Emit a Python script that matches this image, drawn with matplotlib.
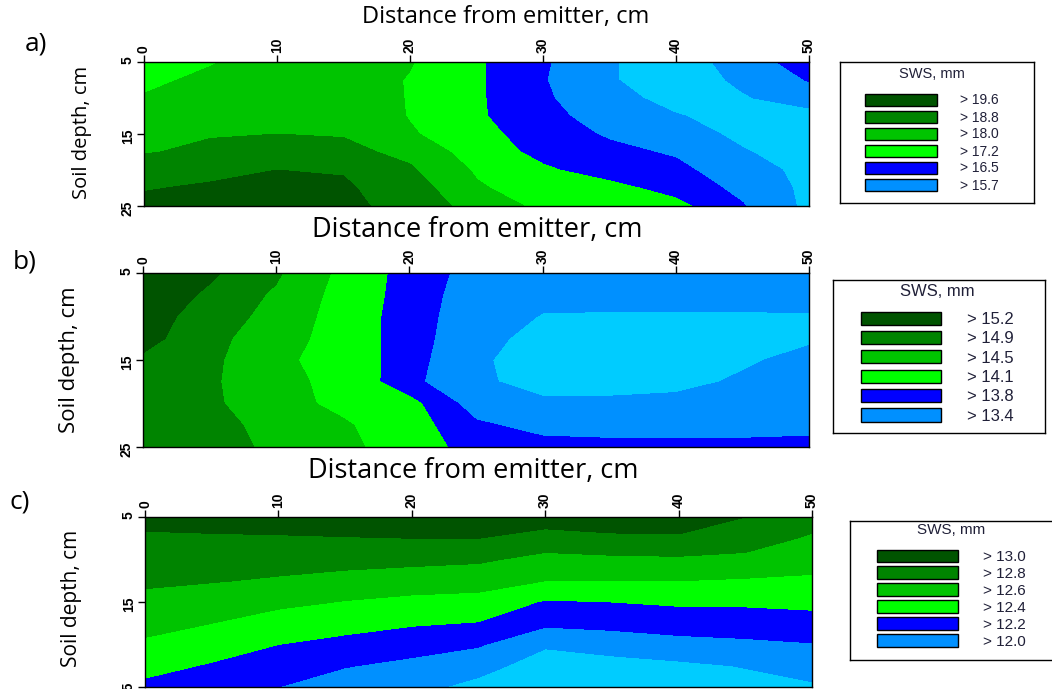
import numpy as np
import matplotlib.pyplot as plt
from matplotlib.patches import Patch

# measurement grid, cm
distance_cm = [0, 5, 10, 15, 20, 25, 30, 35, 40, 45, 50]
depth_cm = [5, 7.5, 10, 12.5, 15, 17.5, 20, 22.5, 25]

# soil water storage (SWS), mm -- rows are depths, columns are distances
sws_a = [
    [17.90, 17.95, 18.30, 18.30, 18.05, 17.30, 16.60, 15.75, 15.40, 15.95, 17.00],
    [17.85, 18.15, 18.40, 18.40, 17.95, 17.30, 16.55, 15.75, 15.40, 15.80, 16.55],
    [18.05, 18.30, 18.50, 18.50, 17.95, 17.30, 16.60, 16.00, 15.40, 15.65, 15.95],
    [18.40, 18.60, 18.70, 18.70, 17.95, 17.30, 16.70, 16.20, 15.75, 15.40, 15.50],
    [18.60, 18.75, 18.80, 18.75, 18.10, 17.40, 16.90, 16.40, 16.00, 15.55, 15.40],
    [18.75, 18.95, 19.10, 19.00, 18.60, 17.60, 17.00, 16.70, 16.40, 15.75, 15.40],
    [19.20, 19.40, 19.60, 19.55, 18.90, 17.90, 17.30, 16.90, 16.70, 16.00, 15.50],
    [19.55, 19.70, 19.80, 19.70, 19.20, 18.10, 17.60, 17.40, 16.95, 16.30, 15.50],
    [19.80, 19.90, 20.00, 19.80, 19.30, 18.50, 17.80, 17.60, 17.40, 16.55, 15.50],
]
sws_b = [
    [15.45, 15.25, 14.95, 14.40, 13.95, 13.70, 13.60, 13.60, 13.60, 13.60, 13.60],
    [15.40, 15.15, 14.85, 14.35, 13.95, 13.65, 13.50, 13.50, 13.50, 13.50, 13.50],
    [15.35, 15.05, 14.80, 14.30, 13.95, 13.60, 13.38, 13.37, 13.37, 13.37, 13.38],
    [15.30, 15.00, 14.70, 14.30, 13.95, 13.55, 13.25, 13.20, 13.20, 13.25, 13.35],
    [15.15, 14.98, 14.60, 14.30, 13.95, 13.45, 13.25, 13.20, 13.25, 13.35, 13.50],
    [15.05, 14.95, 14.65, 14.35, 13.90, 13.45, 13.30, 13.30, 13.30, 13.45, 13.60],
    [15.05, 14.97, 14.65, 14.40, 14.20, 13.65, 13.45, 13.45, 13.50, 13.55, 13.60],
    [15.05, 15.00, 14.80, 14.55, 14.25, 13.85, 13.70, 13.65, 13.65, 13.65, 13.70],
    [15.10, 15.00, 14.85, 14.60, 14.30, 13.95, 13.90, 13.90, 13.90, 13.90, 13.90],
]
sws_c = [
    [13.10, 13.10, 13.10, 13.12, 13.12, 13.12, 13.10, 13.12, 13.12, 13.00, 12.90],
    [12.95, 12.97, 12.98, 12.99, 13.00, 13.00, 12.92, 12.96, 12.97, 12.90, 12.77],
    [12.88, 12.88, 12.87, 12.86, 12.85, 12.83, 12.74, 12.76, 12.77, 12.75, 12.67],
    [12.83, 12.81, 12.78, 12.74, 12.70, 12.67, 12.60, 12.60, 12.60, 12.58, 12.57],
    [12.75, 12.70, 12.65, 12.59, 12.55, 12.54, 12.38, 12.40, 12.43, 12.43, 12.45],
    [12.66, 12.60, 12.50, 12.46, 12.42, 12.39, 12.24, 12.26, 12.28, 12.30, 12.32],
    [12.57, 12.50, 12.40, 12.35, 12.28, 12.22, 12.02, 12.08, 12.14, 12.16, 12.19],
    [12.47, 12.38, 12.30, 12.21, 12.15, 12.06, 11.92, 11.93, 11.96, 12.01, 12.09],
    [12.35, 12.25, 12.20, 12.10, 12.05, 11.95, 11.85, 11.87, 11.88, 11.93, 11.97],
]

levels_a = [15.7, 16.5, 17.2, 18.0, 18.8, 19.6]
levels_b = [13.4, 13.8, 14.1, 14.5, 14.9, 15.2]
levels_c = [12.0, 12.2, 12.4, 12.6, 12.8, 13.0]

x_ticks = [0, 10, 20, 30, 40, 50]
y_ticks = [5, 15, 25]

# lowest class first
colors = ['#00ccff', '#0090ff', '#0000ff', '#00ff00', '#00c400', '#008400', '#005400']

W, H = 1052, 689


def frac(left, top, right, bottom):
    return [left / W, 1 - bottom / H, (right - left) / W, (bottom - top) / H]


panels = [
    dict(z=sws_a, lv=levels_a, tag='a)', tag_xy=(36, 44),
         ax=(144, 62, 809, 206), title_xy=(506, 17), title_fs=17,
         ylab_xy=(82, 132), ylab_fs=14.5,
         leg=(840, 62, 1034, 203), leg_xy=(865, 67), leg_fs=10, tfs=10.5,
         hw=72, hh=13, pitch=16, gap=23),
    dict(z=sws_b, lv=levels_b, tag='b)', tag_xy=(25, 262),
         ax=(143, 273, 809, 447), title_xy=(477, 230), title_fs=19.5,
         ylab_xy=(70, 360), ylab_fs=16,
         leg=(833, 280, 1045, 433), leg_xy=(861, 284), leg_fs=12, tfs=12,
         hw=80, hh=14, pitch=18, gap=26),
    dict(z=sws_c, lv=levels_c, tag='c)', tag_xy=(20, 502),
         ax=(145, 517, 812, 687), title_xy=(473, 471), title_fs=19.5,
         ylab_xy=(72, 598), ylab_fs=15,
         leg=(850, 521, 1058, 660), leg_xy=(877, 523), leg_fs=11, tfs=11,
         hw=81, hh=14, pitch=16.3, gap=25),
]

fig = plt.figure(figsize=(W / 100, H / 100), dpi=100)

for p in panels:
    ax = fig.add_axes(frac(*p['ax']))
    ax.contourf(distance_cm, depth_cm, p['z'], levels=p['lv'], colors=colors, extend='both')
    ax.set_xlim(0, 50)
    ax.set_ylim(25, 5)
    ax.xaxis.tick_top()
    ax.set_xticks(x_ticks)
    ax.set_yticks(y_ticks)
    ax.tick_params(direction='out', length=5, width=1, labelsize=10, pad=1.5)
    for lab in ax.get_xticklabels() + ax.get_yticklabels():
        lab.set_rotation(90)
        lab.set_fontweight('bold')
        lab.set_family('Liberation Sans')
    for s in ax.spines.values():
        s.set_linewidth(1)

    x, y = p['title_xy']
    fig.text(x / W, 1 - y / H, 'Distance from emitter, cm', ha='center', va='center',
             fontsize=p['title_fs'], family='Open Sans')
    x, y = p['tag_xy']
    fig.text(x / W, 1 - y / H, p['tag'], ha='center', va='center', fontsize=19, family='Open Sans')
    x, y = p['ylab_xy']
    fig.text(x / W, 1 - y / H, 'Soil depth, cm', ha='center', va='center', rotation=90,
             fontsize=p['ylab_fs'], family='Open Sans')

    # legend box
    lax = fig.add_axes(frac(*p['leg']))
    lax.set_xticks([])
    lax.set_yticks([])
    for s in lax.spines.values():
        s.set_linewidth(1)
    fs_px = p['leg_fs'] * 100 / 72
    handles = [Patch(facecolor=c, edgecolor='black', linewidth=1) for c in colors[:0:-1]]
    labels = ['> %.1f' % v for v in p['lv'][::-1]]
    x, y = p['leg_xy']
    leg = lax.legend(handles, labels, title='SWS, mm', loc='upper left',
                     bbox_to_anchor=(x / W, 1 - y / H), bbox_transform=fig.transFigure,
                     frameon=False, borderpad=0, borderaxespad=0,
                     prop={'family': 'Liberation Sans', 'size': p['leg_fs']},
                     title_fontproperties={'family': 'Liberation Sans', 'size': p['tfs']},
                     handlelength=p['hw'] / fs_px, handleheight=p['hh'] / fs_px,
                     labelspacing=(p['pitch'] - p['hh']) / fs_px,
                     handletextpad=p['gap'] / fs_px)
    leg._legend_box.sep = 9
    leg.get_title().set_color('#202038')
    for t in leg.get_texts():
        t.set_color('#202038')

fig.savefig('out.png', dpi=100)
